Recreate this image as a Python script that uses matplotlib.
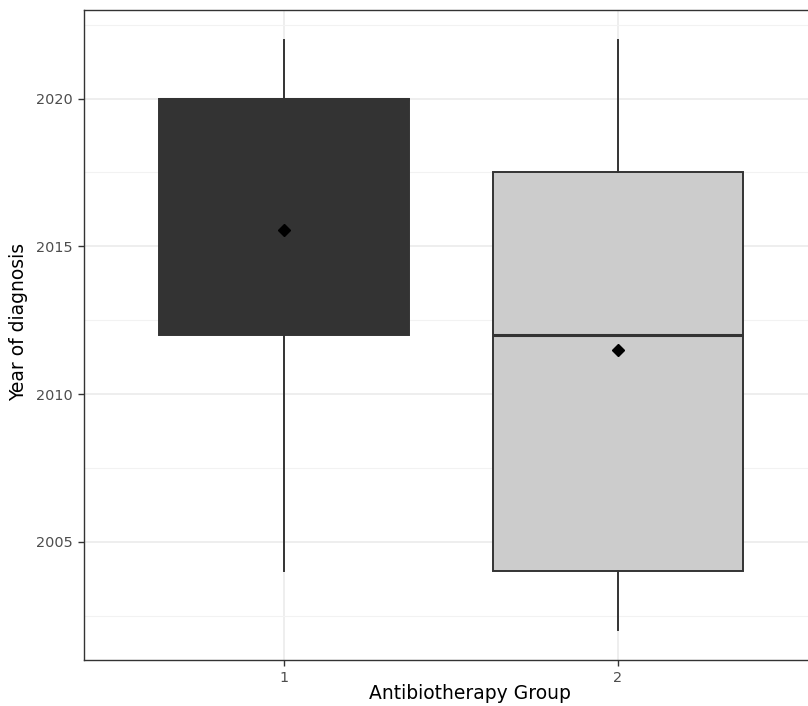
import matplotlib
matplotlib.use("Agg")
import matplotlib.pyplot as plt
from matplotlib.ticker import MultipleLocator

groups = ["1", "2"]
whisker_low = [2004, 2002]
q1 = [2012, 2004]
median = [2020, 2012]
q3 = [2020, 2017.5]
whisker_high = [2022, 2022]
means = [2015.55, 2011.5]
fills = ["#333333", "#cccccc"]

W, H = 808, 706
fig = plt.figure(figsize=(W / 100, H / 100), dpi=100)
left, right, top, bottom = 84, 818, 10, 660
ax = fig.add_axes([left / W, (H - bottom) / H, (right - left) / W, (bottom - top) / H])

stats = []
for i, g in enumerate(groups):
    stats.append(dict(label=g, whislo=whisker_low[i], q1=q1[i], med=median[i],
                      q3=q3[i], whishi=whisker_high[i], mean=means[i], fliers=[]))

pos = list(range(1, len(groups) + 1))
bp = ax.bxp(stats, positions=pos, widths=0.75, patch_artist=True,
            showmeans=True, showcaps=False, showfliers=False,
            boxprops=dict(edgecolor="#333333", linewidth=1.4),
            medianprops=dict(color="#333333", linewidth=2.2),
            whiskerprops=dict(color="#333333", linewidth=1.4),
            meanprops=dict(marker="D", markerfacecolor="black", markeredgecolor="black",
                           markersize=6.3), zorder=3)
for patch, c in zip(bp["boxes"], fills):
    patch.set_facecolor(c)

ax.set_xlim(0.4, 2.6)
ax.set_ylim(2001, 2023)
ax.set_xticks(pos)
ax.set_xticklabels(groups)
ax.yaxis.set_major_locator(MultipleLocator(5))
ax.yaxis.set_minor_locator(MultipleLocator(2.5))
ax.tick_params(axis="y", which="minor", length=0)
ax.tick_params(which="major", length=4.5, width=1, color="#333333",
               labelsize=10.4, labelcolor="#4d4d4d", pad=3.5)
ax.grid(True, which="major", color="#ebebeb", linewidth=1.2, zorder=0)
ax.grid(True, which="minor", axis="y", color="#f2f2f2", linewidth=0.8, zorder=0)
ax.set_axisbelow(True)
for s in ax.spines.values():
    s.set_color("#333333")
    s.set_linewidth(1.0)

ax.set_ylabel("Year of diagnosis", fontsize=13.5, color="black")
ax.yaxis.set_label_coords(-(84 - 28) / (right - left), (660 - 322) / (bottom - top))
ax.set_xlabel("Antibiotherapy Group", fontsize=13.5, color="black")
ax.xaxis.set_label_coords((470 - left) / (right - left), -(684 - bottom) / (bottom - top))

fig.savefig("out.png", dpi=100)
